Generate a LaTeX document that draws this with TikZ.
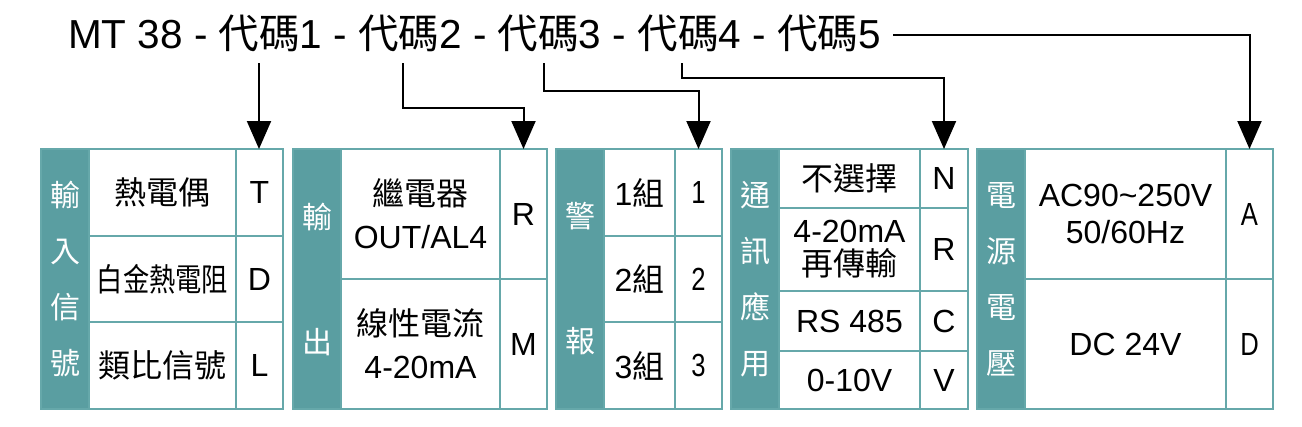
\documentclass[tikz,border=0pt]{standalone}
\usepackage{fontspec}
\usepackage{graphicx}
\setmainfont{Liberation Sans}
\newfontfamily\cjk{Noto Sans CJK TC}
\usetikzlibrary{arrows.meta}
\definecolor{teal1}{HTML}{5A9EA1}
\definecolor{tealline}{HTML}{66A8AA}
\newcommand\dm{{\cjk 代碼}}
\newcommand\narrow[1]{\scalebox{0.8}[1]{#1}}
\newcommand\mkcell[7][]{%
  \node[cellbox,#1,minimum width={#5pt-#3pt},minimum height={#6pt-#4pt}] (#2) at ({(#3+#5)/2},{(#4+#6)/2}) {#7};}
\tikzset{
  cellbox/.style={draw=tealline, line width=2.5pt, fill=white, inner sep=0pt, outer sep=0pt,
    anchor=center, align=center, font=\fontsize{32}{40}\selectfont},
  tealbox/.style={fill=teal1, text=white, font=\cjk\fontsize{30}{56}\selectfont},
  arr/.style={draw=black, line width=2pt, -{Triangle[width=24pt,length=28pt]}}
}
\begin{document}
\begin{tikzpicture}[x=1pt,y=-1pt]
\useasboundingbox (0,0) rectangle (1302,426);
% title
\node[anchor=base west, inner sep=0pt, font=\fontsize{40.5}{48}\selectfont] (title) at (68,48)
  {MT 38 - \dm1 - \dm2 - \dm3 - \dm4 - \dm5};
\coordinate (s1) at (259,63);
\coordinate (s2) at (403,63);
\coordinate (s3) at (544,63);
\coordinate (s4) at (682,63);
\coordinate (s5) at (893,35);
% block 1
\mkcell[tealbox]{a0}{41}{149}{89}{409}{輸\\入\\信\\號}
\mkcell{a1}{89}{149}{236}{236}{\cjk 熱電偶}
\mkcell{a2}{89}{236}{236}{322}{\cjk\scalebox{0.82}[1]{白金熱電阻}}
\mkcell{a3}{89}{322}{236}{409}{\cjk 類比信號}
\mkcell{aT}{236}{149}{283}{236}{T}
\mkcell{aD}{236}{236}{283}{322}{D}
\mkcell{aL}{236}{322}{283}{409}{L}
% block 2
\mkcell[tealbox,font=\cjk\fontsize{30}{125}\selectfont]{b0}{293}{149}{341}{409}{輸\\出}
\mkcell[font=\fontsize{32}{43}\selectfont]{b1}{341}{149}{500}{279}{{\cjk 繼電器}\\OUT/AL4}
\mkcell[font=\fontsize{32}{43}\selectfont]{b2}{341}{279}{500}{409}{{\cjk 線性電流}\\4-20mA}
\mkcell{bR}{500}{149}{547}{279}{R}
\mkcell{bM}{500}{279}{547}{409}{M}
% block 3
\mkcell[tealbox,font=\cjk\fontsize{30}{125}\selectfont]{c0}{556}{149}{604}{409}{警\\報}
\mkcell{c1}{604}{149}{675}{236}{1{\cjk 組}}
\mkcell{c2}{604}{236}{675}{322}{2{\cjk 組}}
\mkcell{c3}{604}{322}{675}{409}{3{\cjk 組}}
\mkcell{cA}{675}{149}{722}{236}{\narrow{1}}
\mkcell{cB}{675}{236}{722}{322}{\narrow{2}}
\mkcell{cC}{675}{322}{722}{409}{\narrow{3}}
% block 4
\mkcell[tealbox]{d0}{731}{149}{779}{409}{通\\訊\\應\\用}
\mkcell{d1}{779}{149}{920}{208}{\cjk 不選擇}
\mkcell[font=\fontsize{32}{33}\selectfont]{d2}{779}{208}{920}{291}{4-20mA\\{\cjk 再傳輸}}
\mkcell{d3}{779}{291}{920}{351}{RS 485}
\mkcell{d4}{779}{351}{920}{409}{0-10V}
\mkcell{dN}{920}{149}{968}{208}{N}
\mkcell{dR}{920}{208}{968}{291}{R}
\mkcell{dC}{920}{291}{968}{351}{C}
\mkcell{dV}{920}{351}{968}{409}{V}
% block 5
\mkcell[tealbox]{e0}{977}{149}{1025}{409}{電\\源\\電\\壓}
\mkcell[font=\fontsize{32}{37}\selectfont]{e1}{1025}{149}{1226}{279}{AC90\textasciitilde250V\\50/60Hz}
\mkcell{e2}{1025}{279}{1226}{409}{DC 24V}
\mkcell{eA}{1226}{149}{1273}{279}{\narrow{A}}
\mkcell{eD}{1226}{279}{1273}{409}{\narrow{D}}
% arrows
\draw[arr] (s1) -- (s1 |- aT.north);
\draw[arr] (s2) -- ++(0,45) -| (bR.north);
\draw[arr] (s3) -- ++(0,28) -| (cA.north);
\draw[arr] (s4) -- ++(0,15) -| (dN.north);
\draw[arr] (s5) -| (eA.north);
\end{tikzpicture}
\end{document}
